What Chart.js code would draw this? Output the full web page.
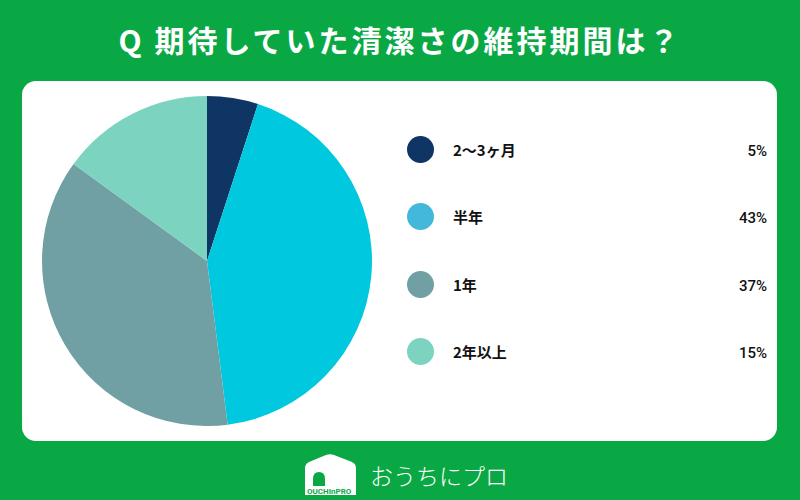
<!DOCTYPE html>
<html lang="ja">
<head>
<meta charset="utf-8">
<script src="https://cdn.jsdelivr.net/npm/chart.js@4.4.1/dist/chart.umd.min.js"></script>
<style>
  html, body { margin: 0; padding: 0; }
  body {
    width: 800px; height: 500px; overflow: hidden; position: relative;
    background: #0aa845;
    font-family: "Noto Sans CJK JP", "Noto Sans", sans-serif;
  }
  #title {
    position: absolute; left: 0; top: 17px; width: 800px; text-align: center;
    color: #fff; font-size: 30px; font-weight: 700; letter-spacing: 3px;
  }
  #panel {
    position: absolute; left: 22px; top: 81px; width: 755px; height: 360px;
    background: #fff; border-radius: 14px;
  }
  #pieWrap {
    position: absolute; left: 42px; top: 96px; width: 330px; height: 330px;
  }
  .legendItem {
    position: absolute; left: 407px; width: 360px; height: 28px;
  }
  .legendItem .dot {
    position: absolute; left: 0; top: 0; width: 27px; height: 27px; border-radius: 50%;
  }
  .legendItem .lab {
    position: absolute; left: 46px; top: 0; line-height: 28px;
    font-size: 15px; font-weight: 700; color: #111;
  }
  .legendItem .pct {
    position: absolute; right: 0; top: 1px; line-height: 28px;
    font-size: 15px; color: #111; font-family: Roboto, sans-serif; font-weight: 500;
  }
  #logo {
    position: absolute; left: 304px; top: 452px; width: 200px; height: 44px;
  }
  #logoText {
    position: absolute; left: 370px; top: 458px; color: #fff; font-size: 23px;
    font-weight: 300;
  }
</style>
</head>
<body>
<div id="title">Q 期待していた清潔さの維持期間は？</div>
<div id="panel"></div>
<div id="pieWrap"><canvas id="pieChart"></canvas></div>
<div id="legend"></div>
<svg id="logo" viewBox="0 0 200 44" width="200" height="44">
  <path d="M1 16 Q1 12 5 10 L22 3 Q26 1.5 30 3 L48 10 Q52 12 52 16 L52 43 L1 43 Z" fill="#fff"/>
  <path d="M9 34 L9 27 Q9 20 15 20 Q21 20 21 27 L21 34 Z" fill="#0aa845"/>
  <text x="3" y="42" font-size="8" font-weight="700" fill="#0aa845" font-family="Roboto, sans-serif">OUCHInPRO</text>
</svg>
<div id="logoText">おうちにプロ</div>

<script>
// データ
const categorias = ['2〜3ヶ月', '半年', '1年', '2年以上'];
const valores = [5, 43, 37, 15];
const coresPizza = ['#0e3563', '#00c9df', '#70a0a3', '#7bd3c0'];
const coresLegenda = ['#0e3563', '#44b8da', '#70a0a3', '#7bd3c0'];
const posicoesLegenda = [136, 203, 271, 338];

// Legenda
const legenda = document.getElementById('legend');
categorias.forEach((cat, i) => {
    const item = document.createElement('div');
    item.className = 'legendItem';
    item.style.top = posicoesLegenda[i] + 'px';
    item.innerHTML = `<div class="dot" style="background:${coresLegenda[i]}"></div>
        <div class="lab">${cat}</div><div class="pct">${valores[i]}%</div>`;
    legenda.appendChild(item);
});

// Gráfico
new Chart(document.getElementById('pieChart').getContext('2d'), {
    type: 'pie',
    data: {
        labels: categorias,
        datasets: [{
            data: valores,
            backgroundColor: coresPizza,
            borderWidth: 0
        }]
    },
    options: {
        responsive: true,
        maintainAspectRatio: false,
        animation: false,
        layout: { padding: 0 },
        plugins: {
            legend: { display: false },
            tooltip: { enabled: false }
        }
    }
});
</script>
</body>
</html>
